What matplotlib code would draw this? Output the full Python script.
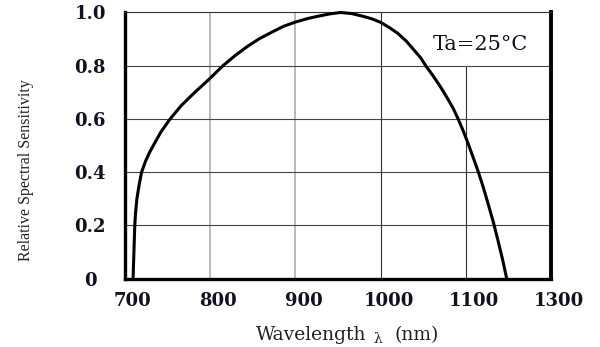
import matplotlib
matplotlib.use("Agg")
import matplotlib.pyplot as plt
from matplotlib.transforms import ScaledTranslation

# Curve
wavelength = [709.5, 710.5, 711.5, 712.5, 714, 716.5, 719.5, 724, 729, 735,
              742, 753, 766, 782, 800, 815, 830, 844, 858, 873, 886, 900,
              914, 928, 941, 953, 966, 979, 990, 1000, 1010, 1020, 1030,
              1040, 1047, 1053, 1062, 1070, 1078, 1085, 1091, 1097, 1103,
              1109, 1115, 1121, 1127, 1132.5, 1138, 1143, 1148]
sensitivity = [0.0, 0.1, 0.2, 0.25, 0.3, 0.35, 0.4, 0.44, 0.475, 0.51,
               0.55, 0.6, 0.65, 0.70, 0.753, 0.8, 0.84, 0.873, 0.902, 0.927, 0.948, 0.964,
               0.977, 0.987, 0.995, 1.0, 0.996, 0.986, 0.976, 0.963, 0.944, 0.922, 0.893,
               0.856, 0.83, 0.80, 0.76, 0.722, 0.68, 0.641, 0.60, 0.555, 0.505,
               0.452, 0.398, 0.338, 0.272, 0.21, 0.14, 0.074, 0.0]

x_ticks = [700, 800, 900, 1000, 1100, 1200]
x_tick_labels = ['700', '800', '900', '1000', '1100', '1300']
y_ticks = [0, 0.2, 0.4, 0.6, 0.8, 1.0]
y_tick_labels = ['0', '0.2', '0.4', '0.6', '0.8', '1.0']

txt_color = '#111122'

fig = plt.figure(figsize=(6.0, 3.47), dpi=100)
ax = fig.add_axes([0.2083, 0.1974, 0.71, 0.7666])

# grid: gray at 800/900, dark at 1000/1100, 1100 stops under the Ta box
for xv in [800, 900]:
    ax.axvline(xv, color='#b4b4b4', lw=1.3, zorder=1)
ax.axvline(1000, color='#333333', lw=0.8, zorder=1)
ax.vlines(1100, 0, 0.8, color='#333333', lw=0.8, zorder=1)
for yv in [0.2, 0.4, 0.6, 0.8]:
    ax.axhline(yv, color='#444444', lw=0.8, zorder=1)

ax.plot(wavelength, sensitivity, color='black', lw=2.2, zorder=3,
        clip_on=False, solid_capstyle='butt', solid_joinstyle='round')

ax.set_xlim(700, 1200)
ax.set_ylim(0, 1.0)

ax.set_xticks(x_ticks)
ax.set_xticklabels(x_tick_labels, fontfamily='DejaVu Serif', fontweight='bold',
                   fontsize=13, color=txt_color)
ax.set_yticks(y_ticks)
ax.set_yticklabels(y_tick_labels, fontfamily='DejaVu Serif', fontweight='bold',
                   fontsize=13, color=txt_color)
ax.tick_params(axis='both', length=0)
ax.tick_params(axis='x', pad=9.5)
ax.tick_params(axis='y', pad=25)
for lab in ax.get_yticklabels():
    lab.set_horizontalalignment('center')
shift = ScaledTranslation(8 / 100, 0, fig.dpi_scale_trans)
for lab in ax.get_xticklabels():
    lab.set_transform(lab.get_transform() + shift)

ax.spines['left'].set_linewidth(2.4)
ax.spines['bottom'].set_linewidth(2.4)
ax.spines['right'].set_linewidth(2.8)
ax.spines['top'].set_linewidth(0.8)
ax.spines['top'].set_color('#333333')

ax.text(1117, 0.878, 'Ta=25°C', fontfamily='DejaVu Serif', fontsize=15,
        ha='center', va='center', color=txt_color)

fig.text(26 / 600, 1 - 170 / 347, 'Relative Spectral Sensitivity',
         rotation=90, ha='center', va='center', fontfamily='Liberation Serif',
         fontsize=11.5, color='#222222')

fig.text(366 / 600, 1 - 340 / 347, 'Wavelength', ha='right', va='baseline',
         fontfamily='DejaVu Serif', fontsize=13.5, color='#222222')
fig.text(378 / 600, 1 - 343 / 347, 'λ', ha='center', va='baseline',
         fontfamily='DejaVu Serif', fontsize=10, color='#222222')
fig.text(395 / 600, 1 - 340 / 347, '(nm)', ha='left', va='baseline',
         fontfamily='DejaVu Serif', fontsize=13.5, color='#222222')

fig.savefig('out.png', dpi=100)
